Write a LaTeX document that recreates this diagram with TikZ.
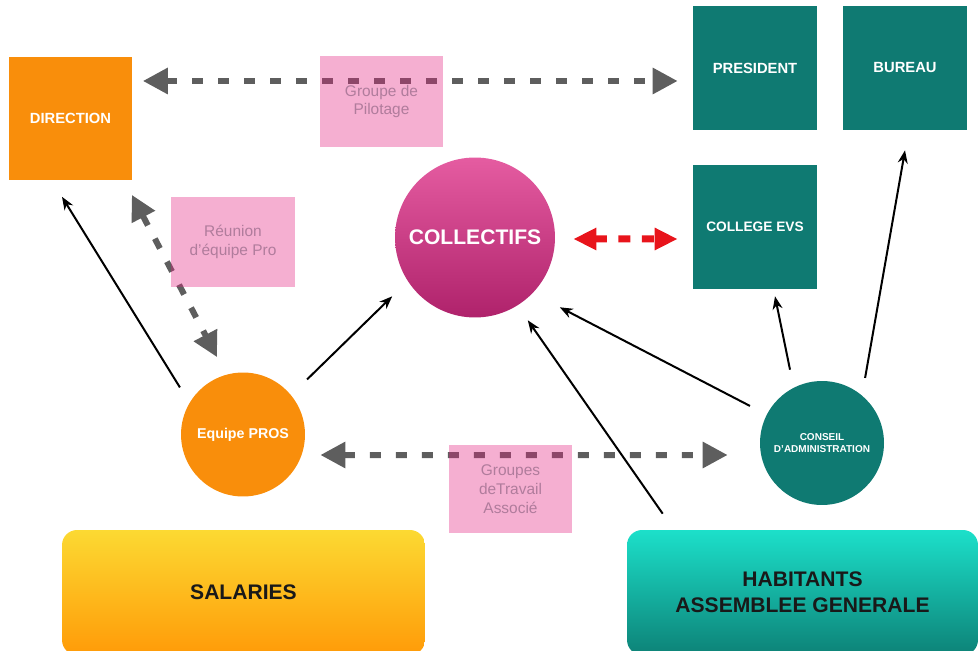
\documentclass[tikz,border=0pt]{standalone}
\usepackage{fontspec}
\setmainfont{Liberation Sans}
\usetikzlibrary{arrows.meta}

\definecolor{orangeevs}{HTML}{F98E0B}
\definecolor{tealevs}{HTML}{0F7A72}
\definecolor{postit}{HTML}{E2207F}
\definecolor{postittext}{HTML}{B07C9C}
\definecolor{grisfleche}{HTML}{5E5E5E}
\definecolor{rougefleche}{HTML}{E8141B}
\definecolor{roseclair}{HTML}{E55CA1}
\definecolor{rosefonce}{HTML}{AF226B}
\definecolor{jaunehaut}{HTML}{FCD932}
\definecolor{orangebas}{HTML}{FF9B08}
\definecolor{turquoisehaut}{HTML}{1CE0CA}
\definecolor{turquoisebas}{HTML}{0D8277}

\begin{document}
\begin{tikzpicture}[x=0.02cm, y=-0.02cm,
                carre/.style={rectangle, fill=#1, minimum width=2.48cm, minimum height=2.48cm,
                        text=white, font=\fontsize{8.4}{10}\selectfont\bfseries},
                rond/.style={circle, fill=#1, minimum size=2.48cm, inner sep=0pt, text=white, align=center},
                postit/.style={rectangle, fill=postit, fill opacity=0.36, text opacity=1, text=postittext,
                        align=center, font=\fontsize{8.8}{10.8}\selectfont},
                grand/.style={rectangle, rounded corners=0.3cm, minimum height=2.5cm, text=black!90,
                        align=center, font=\fontsize{12}{14.6}\selectfont\bfseries},
                pointille/.style={grisfleche, line width=0.12cm, dash pattern=on 0.22cm off 0.3cm,
                        {Triangle[length=0.5cm,width=0.5cm]}-{Triangle[length=0.5cm,width=0.5cm]}},
                rouge/.style={rougefleche, line width=0.14cm, dash pattern=on 0.24cm off 0.23cm,
                        {Triangle[length=0.46cm,width=0.42cm]}-{Triangle[length=0.46cm,width=0.42cm]}},
                fleche/.style={black, line width=0.04cm, -{Stealth[length=0.26cm,width=0.2cm]}}]

                \useasboundingbox (0,0) rectangle (979,651);
                \clip (0,0) rectangle (979,651);

                % Define nodes
                \node[carre=orangeevs] (direction) at (70.5,118.5) {DIRECTION}; % top left
                \node[carre=tealevs] (president) at (755,68) {PRESIDENT}; % top right
                \node[carre=tealevs] (bureau) at (905,68) {BUREAU};
                \node[carre=tealevs, font=\fontsize{7.8}{9}\selectfont\bfseries] (college) at (755,227) {COLLEGE EVS};
                \node[rond=orangeevs, font=\fontsize{8.1}{10}\selectfont\bfseries] (equipe) at (243,434.5) {Equipe PROS};
                \node[rond=tealevs, font=\fontsize{5.7}{7}\selectfont\bfseries] (conseil) at (822,443) {CONSEIL\\D'ADMINISTRATION};
                \node[circle, minimum size=3.2cm, top color=roseclair, bottom color=rosefonce, text=white,
                        font=\fontsize{12}{14}\selectfont\bfseries] (collectifs) at (475,237.5) {COLLECTIFS}; % centre
                \node[grand, minimum width=7.26cm, top color=jaunehaut, bottom color=orangebas] (salaries) at (243.5,592.5) {SALARIES};
                \node[grand, minimum width=7.02cm, top color=turquoisehaut, bottom color=turquoisebas] (habitants) at (802.5,592.5) {HABITANTS\\ASSEMBLEE GENERALE};

                % Define edges
                \path[pointille] ([shift={(10,-37.5)}]direction.east) edge ([shift={(-15,13)}]president.west);
                \path[pointille] ([shift={(-1,14)}]direction.south east) edge ([shift={(-26,-15)}]equipe.north);
                \path[pointille] ([shift={(15,20.5)}]equipe.east) edge ([shift={(-32,12)}]conseil.west);
                \path[rouge] ([shift={(18,1.5)}]collectifs.east) edge ([shift={(-15,12)}]college.west);
                \path[fleche] ([shift={(-19,-3)}]equipe.north west) edge ([shift={(-8.5,16)}]direction.south);
                \path[fleche] ([shift={(20,-11)}]equipe.north east) edge ([shift={(-26,2)}]collectifs.south west);
                \path[fleche] ([shift={(-28,7)}]conseil.north west) edge ([shift={(28,13)}]collectifs.south east);
                \path[fleche] ([shift={(-32,-11)}]conseil.north) edge ([shift={(20,7)}]college.south);
                \path[fleche] ([shift={(-1,-21)}]conseil.north east) edge ([shift={(0,20)}]bureau.south);
                \path[fleche] ([shift={(36,-16)}]habitants.north west) edge ([shift={(-4,26)}]collectifs.south east);

                % Post-it labels, on top of the dashed lines
                \node[postit, minimum width=2.46cm, minimum height=1.82cm] (pilotage) at (381.5,101.5) {Groupe de\\Pilotage};
                \node[postit, minimum width=2.48cm, minimum height=1.8cm] (reunion) at (233,242) {Réunion\\d'équipe Pro};
                \node[postit, minimum width=2.46cm, minimum height=1.76cm] (travail) at (510.5,489) {Groupes\\deTravail\\Associé};
\end{tikzpicture}
\end{document}
